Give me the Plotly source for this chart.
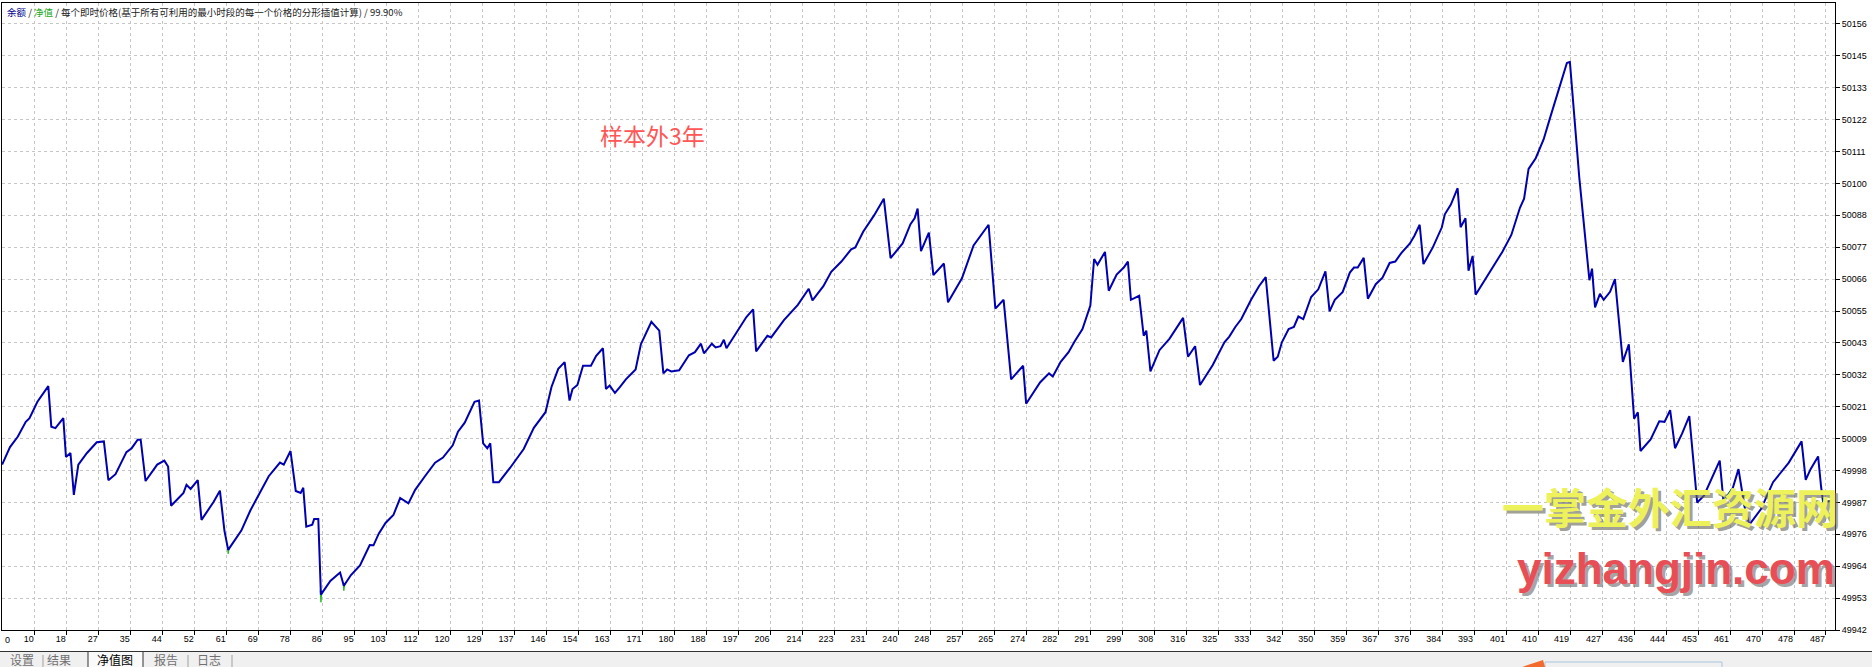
import plotly.graph_objects as go

# balance curve vertices (trade number, balance)
trade_no = [
    1.3, 3.4, 5.5, 7.6, 8.6, 10.7, 13.6, 14.4, 15.5, 17.6,
    18.3, 19.5, 20.4, 21.6, 23.9, 26.5, 28.4, 29.6, 31.5, 34.4,
    35.8, 37.4, 38.2, 39.5, 42.6, 44.5, 45.5, 46.3, 49.6, 50.4,
    51.5, 53.4, 54.4, 57.6, 59.3, 60.5, 61.5, 65.0, 67.4, 69.7,
    72.3, 75.3, 76.3, 78.1, 79.5, 80.8, 81.5, 82.3, 83.9, 84.4,
    85.5, 86.2, 88.7, 91.3, 92.3, 94.2, 96.6, 99.2, 100.2, 101.6,
    103.4, 105.5, 107.3, 109.5, 111.3, 113.9, 116.6, 118.7, 121.3, 122.7,
    124.5, 127.1, 128.3, 129.4, 130.5, 131.3, 132.1, 133.6, 136.6, 140.2,
    142.9, 146.0, 147.6, 149.4, 151.1, 152.4, 153.2, 154.5, 156.0, 158.1,
    159.5, 161.3, 162.1, 163.1, 164.5, 165.8,
    167.4, 170.0, 171.4, 174.2, 176.3, 177.4, 178.4, 179.5, 181.6, 184.2,
    185.8, 187.4, 188.2, 190.3, 191.3, 192.6, 193.5, 194.2, 196.6, 199.5,
    201.3, 202.1, 205.1, 206.1, 209.5, 213.2, 216.1, 217.1, 220.0, 222.1,
    224.8, 227.4, 228.5, 230.6, 233.5, 236.1, 237.9, 241.1, 243.2, 244.3,
    245.1, 246.0, 248.1, 249.3, 252.1, 253.2, 256.9, 260.0, 264.0, 265.8,
    268.0, 270.0, 273.2, 274.0, 277.7, 280.1, 281.1, 283.2, 285.3, 286.9,
    289.0, 291.1, 292.1, 293.0, 295.0, 296.0, 298.1, 300.0, 301.1, 301.9,
    304.1, 305.3, 306.0, 307.1, 309.5, 312.2, 315.8, 317.1, 319.0, 320.3,
    323.7,
    326.8, 328.1, 329.7, 331.3, 332.6, 333.9, 336.0, 337.8, 339.9, 341.0,
    342.1, 343.9, 345.3, 346.5, 347.8, 349.9, 351.8, 353.7, 354.8, 356.2,
    358.3, 360.2, 361.3, 362.3, 363.9, 365.0, 367.1, 368.9, 370.8, 372.3,
    373.9, 376.2, 377.4, 378.8, 379.8, 382.3, 384.7, 385.5, 387.1, 388.9,
    389.7, 391.0, 391.8, 392.9, 393.7, 397.1, 400.8, 403.2, 405.5, 406.6,
    407.8, 409.7, 411.8, 413.4, 415.0, 418.0, 418.8, 421.3, 424.0, 424.7,
    425.5, 426.8, 427.8, 429.5, 430.8, 432.9, 434.5, 435.9, 436.9, 437.6,
    440.3, 442.6, 444.0, 445.5, 446.8, 448.7, 450.6, 452.7, 454.5, 457.1,
    458.7, 459.7, 462.2, 463.7, 465.3, 466.6, 469.7, 472.9, 477.1, 480.5,
    481.6, 482.9, 484.9, 485.7, 486.2, 488.9,
]
balance = [
    50000.4, 50006.6, 50010.3, 50015.5, 50016.8, 50022.6, 50028.1, 50013.8, 50013.3, 50016.8,
    50003.1, 50004.5, 49989.7, 50000.4, 50004.5, 50008.3, 50008.6, 49994.9, 49997.0, 50004.8,
    50006.2, 50009.2, 50009.2, 49994.6, 50000.4, 50001.8, 49999.7, 49985.9, 49990.4, 49993.3,
    49991.8, 49994.9, 49980.9, 49987.2, 49991.2, 49977.1, 49970.3, 49977.1, 49984.2, 49990.1,
    49996.3, 50001.1, 50000.4, 50005.2, 49991.1, 49990.4, 49992.2, 49978.5, 49979.2, 49981.2,
    49981.2, 49954.5, 49959.3, 49962.3, 49957.6, 49961.4, 49964.8, 49972.0, 49971.9, 49976.0,
    49979.8, 49982.6, 49988.6, 49986.7, 49991.5, 49996.3, 50001.1, 50002.9, 50007.2, 50012.0,
    50015.2, 50022.6, 50023.0, 50007.9, 50006.2, 50007.9, 49994.2, 49994.2, 49999.3, 50005.9,
    50013.4, 50018.9, 50027.8, 50034.2, 50036.6, 50023.0, 50027.1, 50028.5, 50035.3, 50035.3,
    50038.8, 50041.5, 50027.1, 50028.3, 50025.7, 50027.8,
    50030.5, 50034.0, 50042.9, 50050.8, 50047.7, 50032.6, 50034.0, 50033.3, 50033.7, 50039.0,
    50040.1, 50043.1, 50039.7, 50043.1, 50041.8, 50042.2, 50044.5, 50041.5, 50046.6, 50052.5,
    50055.2, 50040.4, 50045.9, 50045.3, 50051.4, 50056.8, 50062.5, 50058.4, 50063.4, 50068.5,
    50072.1, 50076.4, 50077.1, 50082.6, 50088.4, 50094.3, 50073.3, 50078.5, 50085.3, 50087.4,
    50090.8, 50075.8, 50082.3, 50067.3, 50071.4, 50057.7, 50066.2, 50077.8, 50085.1, 50055.5,
    50058.6, 50030.5, 50035.3, 50021.9, 50029.4, 50032.6, 50031.5, 50036.7, 50040.1, 50043.9,
    50048.3, 50056.6, 50073.0, 50071.0, 50075.5, 50061.8, 50067.5, 50070.0, 50072.1, 50058.6,
    50060.0, 50045.9, 50047.7, 50033.3, 50040.8, 50044.9, 50052.2, 50038.5, 50042.2, 50028.5,
    50035.6,
    50043.6, 50045.6, 50049.0, 50051.8, 50055.2, 50058.6, 50063.4, 50066.6, 50037.1, 50038.5,
    50043.6, 50048.3, 50049.0, 50052.7, 50051.8, 50059.6, 50062.3, 50068.6, 50054.5, 50058.6,
    50061.4, 50068.2, 50070.0, 50070.0, 50073.4, 50059.0, 50064.1, 50066.4, 50071.6, 50072.1,
    50075.1, 50078.5, 50081.2, 50085.1, 50071.2, 50077.1, 50084.2, 50088.8, 50092.2, 50098.0,
    50084.2, 50087.4, 50068.9, 50074.1, 50060.4, 50067.8, 50075.5, 50081.5, 50091.1, 50094.3,
    50104.8, 50108.6, 50115.2, 50122.3, 50129.2, 50142.2, 50142.6, 50101.8, 50065.5, 50069.6,
    50055.9, 50060.7, 50058.6, 50061.4, 50065.9, 50036.7, 50042.9, 50016.6, 50018.9, 50005.2,
    50009.3, 50015.7, 50015.5, 50019.6, 50006.2, 50011.4, 50017.5, 49987.0, 49989.4, 49997.0,
    50001.8, 49987.4, 49992.2, 49998.8, 49985.6, 49979.2, 49984.7, 49994.2, 50001.1, 50008.6,
    49995.0, 49998.8, 50003.3, 49992.5, 49987.5, 49987.5,
]
assert len(trade_no) == len(balance)

# equity dips that poke out below the balance line (green)
equity_no = [61.3, 61.5, 61.8, None, 86.0, 86.2, 86.5, None, 92.1, 92.3, 92.6]
equity = [49971.0, 49968.9, 49971.0, None, 49956.0, 49951.8, 49956.0, None, 49958.5, 49955.9, 49958.5]

y_labels = ["49942", "49953", "49964", "49976", "49987", "49998", "50009", "50021", "50032", "50043",
            "50055", "50066", "50077", "50088", "50100", "50111", "50122", "50133", "50145", "50156"]
x_labels = ["10", "18", "27", "35", "44", "52", "61", "69", "78", "86", "95", "103", "112", "120",
            "129", "137", "146", "154", "163", "171", "180", "188", "197", "206", "214", "223", "231",
            "240", "248", "257", "265", "274", "282", "291", "299", "308", "316", "325", "333", "342",
            "350", "359", "367", "376", "384", "393", "401", "410", "419", "427", "436", "444", "453",
            "461", "470", "478", "487"]
tabs = ["设置", "结果", "净值图", "报告", "日志"]

W, H = 1872, 667
L, R, T, B = 2, 37, 3, 37
PW, PH = W - L - R, H - T - B


def px(x):
    return (x - L) / PW


def py(y):
    return (H - B - y) / PH


y_ticks = [49942 + k * 214 / 19 for k in range(len(y_labels))]
x_ticks = [10 + k * 477 / 56 for k in range(len(x_labels))]

fig = go.Figure()
fig.add_trace(go.Scatter(x=equity_no, y=equity, mode="lines",
                         line=dict(color="#1fb81f", width=1), hoverinfo="skip"))
fig.add_trace(go.Scatter(x=trade_no, y=balance, mode="lines",
                         line=dict(color="#0000b0", width=2)))

grid = dict(showgrid=True, gridcolor="#c6c6c6", griddash="3px,3px", gridwidth=1,
            zeroline=False, showline=True, linecolor="black", linewidth=1, mirror=True,
            ticks="outside", ticklen=4, tickcolor="black",
            tickfont=dict(family="Liberation Sans", size=9, color="black"))

fig.update_layout(
    width=W, height=H,
    margin=dict(l=L, r=R, t=T, b=B, pad=0),
    paper_bgcolor="white", plot_bgcolor="white",
    showlegend=False,
    font=dict(family="Liberation Sans", size=9, color="black"),
    xaxis=dict(range=[1.27, 489.4], tickmode="array", tickvals=x_ticks, ticktext=x_labels,
               ticklabelposition="outside left", **grid),
    yaxis=dict(range=[49942, 50163.4], side="right", tickmode="array",
               tickvals=y_ticks, ticktext=y_labels, **grid),
)


def note(x, y, text, font, xanchor="center"):
    return dict(x=px(x), y=py(y), xref="paper", yref="paper", xanchor=xanchor, yanchor="middle",
                showarrow=False, text=text, font=font)


ann = [
    note(5, 12,
         "<span style='color:#00008b'>余额</span> / <span style='color:#22a822'>净值</span>"
         " / 每个即时价格(基于所有可利用的最小时段的每一个价格的分形插值计算) / 99.90%",
         dict(family="Noto Sans CJK SC", size=9.5, color="#222222"), "left"),
    note(3, 640, "0", dict(family="Liberation Sans", size=9), "left"),
    note(652, 135, "样本外3年", dict(family="Noto Sans CJK SC", size=23, color="#ff5656")),
]

# watermark with drop shadow
for d, col in [(3, "rgba(105,105,90,0.65)"), (0, "#eef25a")]:
    ann.append(note(1670 + d, 505 + d, "一掌金外汇资源网",
                    dict(family="Noto Sans CJK SC", size=42, weight="bold", color=col)))
for d, col in [(3, "rgba(105,105,105,0.6)"), (0, "#e84e56")]:
    ann.append(note(1676 + d, 568 + d, "yizhangjin.com",
                    dict(family="Liberation Sans", size=44, weight="bold", color=col)))

# tab bar at the bottom
tab_x = [22, 59, 115, 166, 209]
for name, cx in zip(tabs, tab_x):
    ann.append(note(cx, 659, name,
                    dict(family="Noto Sans CJK SC", size=12,
                         color="black" if name == "净值图" else "#707070")))
fig.update_layout(annotations=ann)

shapes = [
    dict(type="rect", xref="paper", yref="paper", x0=px(0), x1=px(W), y0=py(651.5), y1=py(H + 2),
         fillcolor="#f0f0f0", line=dict(width=0), layer="below"),
    dict(type="rect", xref="paper", yref="paper", x0=px(88), x1=px(143), y0=py(651.5), y1=py(H + 2),
         fillcolor="#fafafa", line=dict(color="#333333", width=1), layer="below"),
    dict(type="line", xref="paper", yref="paper", x0=px(0), x1=px(W), y0=py(651.5), y1=py(651.5),
         line=dict(color="#333333", width=1)),
    dict(type="rect", xref="paper", yref="paper", x0=px(1545), x1=px(1722), y0=py(662), y1=py(H + 2),
         fillcolor="rgba(0,0,0,0)", line=dict(color="#a9c4e0", width=1)),
    dict(type="path", xref="paper", yref="paper",
         path=f"M {px(1522)} {py(H)} L {px(1543)} {py(660)} L {px(1545)} {py(H)} Z",
         fillcolor="#f26a2e", line=dict(width=0)),
]
for sx in [43, 188, 232]:
    shapes.append(dict(type="line", xref="paper", yref="paper", x0=px(sx), x1=px(sx),
                       y0=py(655), y1=py(H), line=dict(color="#a0a0a0", width=1)))
fig.update_layout(shapes=shapes)

fig.write_html("out.html", config={"displayModeBar": False},
               post_script="document.body.style.margin='0';")
